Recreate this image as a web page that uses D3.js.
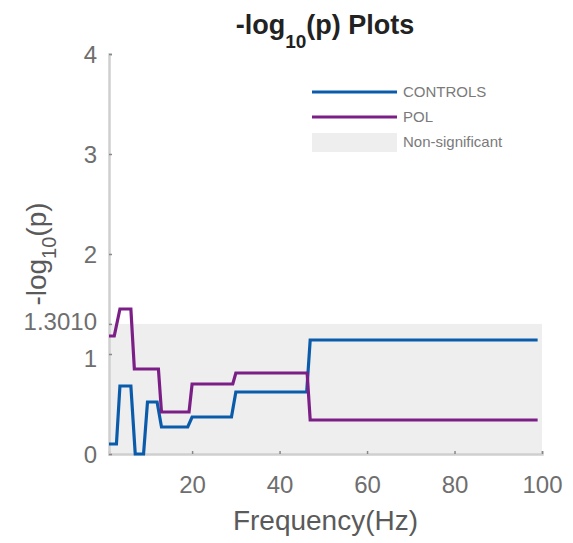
<!DOCTYPE html>
<html>
<head>
<meta charset="utf-8">
<script src="https://cdn.jsdelivr.net/npm/d3@7"></script>
<style>
  body { margin: 0; background: #fff; }
  svg { display: block; font-family: "Liberation Sans", Arial, Helvetica, sans-serif; }
</style>
</head>
<body>
<svg id="chart" width="573" height="543"></svg>
<script>
// values (vertices of each step line)
var controlsHz  = [1, 2.7, 3.5, 6, 7, 8.9, 9.8, 12, 13, 19, 20, 29, 30, 46.2, 47, 99];
var controlsVal = [0.10, 0.10, 0.68, 0.68, 0.00, 0.00, 0.52, 0.52, 0.27, 0.27, 0.37, 0.37, 0.62, 0.62, 1.14, 1.14];
var polHz  = [1, 2.2, 3.5, 6, 6.8, 12.3, 13, 19.3, 20, 29.3, 30, 46.3, 47, 99];
var polVal = [1.18, 1.18, 1.45, 1.45, 0.85, 0.85, 0.42, 0.42, 0.70, 0.70, 0.81, 0.81, 0.34, 0.34];
var sigLevel = 1.3010;
var xTicks = [20, 40, 60, 80, 100];
var yTicks = [0, 1, 1.3010, 2, 3, 4];
var seriesNames = ["CONTROLS", "POL"];
var seriesColors = ["#0a5cab", "#7b1f87"];

var svg = d3.select("#chart");
// plot box (note: "top" is taken by window.top, so use other names)
var plotLeft = 109, plotRight = 542, plotTop = 54, plotBottom = 454;

var x = d3.scaleLinear().domain([1, 100]).range([plotLeft, plotRight]);
var y = d3.scaleLinear().domain([0, 4]).range([plotBottom, plotTop]);

// non-significant region
svg.append("rect")
    .attr("x", x(1)).attr("y", y(sigLevel))
    .attr("width", x(100) - x(1)).attr("height", y(0) - y(sigLevel))
    .attr("fill", "#eeeeee");

// axes
var xAxis = svg.append("g")
    .attr("transform", "translate(0," + plotBottom + ")")
    .call(d3.axisBottom(x).tickValues(xTicks).tickSize(-3).tickPadding(22));
var yAxis = svg.append("g")
    .attr("transform", "translate(" + plotLeft + ",0)")
    .call(d3.axisLeft(y).tickValues(yTicks).tickSize(-3).tickPadding(12)
        .tickFormat(function(d) { return d === sigLevel ? "1.3010" : d3.format("d")(d); }));

[xAxis, yAxis].forEach(function(a) {
    a.select(".domain").attr("stroke", "#cfcfcf").attr("stroke-width", 2.5);
    a.selectAll(".tick line").attr("stroke", "#888").attr("stroke-width", 1.5);
    a.selectAll(".tick text").attr("fill", "#6e6e6e").attr("font-size", 24)
        .attr("font-family", "Liberation Sans, Arial, sans-serif");
});
yAxis.selectAll(".tick text").attr("dy", "0.36em");
// nudge the 1 and 1.3010 labels apart like the original
yAxis.selectAll(".tick text").filter(function(d) { return d === 1; }).attr("dy", "0.5em");
yAxis.selectAll(".tick text").filter(function(d) { return d === sigLevel; }).attr("dy", "0.25em");

// lines
var line = d3.line()
    .x(function(d) { return x(d[0]); })
    .y(function(d) { return y(d[1]); });

var series = [
    d3.zip(controlsHz, controlsVal),
    d3.zip(polHz, polVal)
];

svg.append("g").selectAll("path")
    .data(series)
    .enter()
    .append("path")
    .attr("d", line)
    .attr("fill", "none")
    .attr("stroke", function(d, i) { return seriesColors[i]; })
    .attr("stroke-width", 3.2)
    .attr("stroke-linejoin", "miter");

// title
var title = svg.append("text")
    .attr("x", 325).attr("y", 34)
    .attr("text-anchor", "middle")
    .attr("font-size", 27)
    .attr("font-weight", "bold")
    .attr("fill", "#222");
title.append("tspan").text("-log");
title.append("tspan").attr("font-size", 19).attr("dy", 14).text("10");
title.append("tspan").attr("dy", -14).text("(p) Plots");

// axis titles
svg.append("text")
    .attr("x", (plotLeft + plotRight) / 2).attr("y", 530)
    .attr("text-anchor", "middle")
    .attr("font-size", 28)
    .attr("fill", "#5a5a5a")
    .text("Frequency(Hz)");

var ylab = svg.append("text")
    .attr("transform", "translate(46," + ((plotTop + plotBottom) / 2) + ") rotate(-90)")
    .attr("text-anchor", "middle")
    .attr("font-size", 28)
    .attr("fill", "#5a5a5a");
ylab.append("tspan").text("-log");
ylab.append("tspan").attr("font-size", 20).attr("dy", 10).text("10");
ylab.append("tspan").attr("dy", -10).text("(p)");

// legend
var legend = svg.append("g").attr("transform", "translate(312,92)");
seriesNames.forEach(function(name, i) {
    legend.append("line")
        .attr("x1", 0).attr("x2", 85)
        .attr("y1", i * 25).attr("y2", i * 25)
        .attr("stroke", seriesColors[i]).attr("stroke-width", 3.2);
    legend.append("text")
        .attr("x", 91).attr("y", i * 25).attr("dy", "0.36em")
        .attr("font-size", 15).attr("fill", "#7a7a7a")
        .text(name);
});
legend.append("rect")
    .attr("x", 0).attr("y", 41).attr("width", 85).attr("height", 19)
    .attr("fill", "#eeeeee");
legend.append("text")
    .attr("x", 91).attr("y", 50).attr("dy", "0.36em")
    .attr("font-size", 15).attr("fill", "#7a7a7a")
    .text("Non-significant");
</script>
</body>
</html>
